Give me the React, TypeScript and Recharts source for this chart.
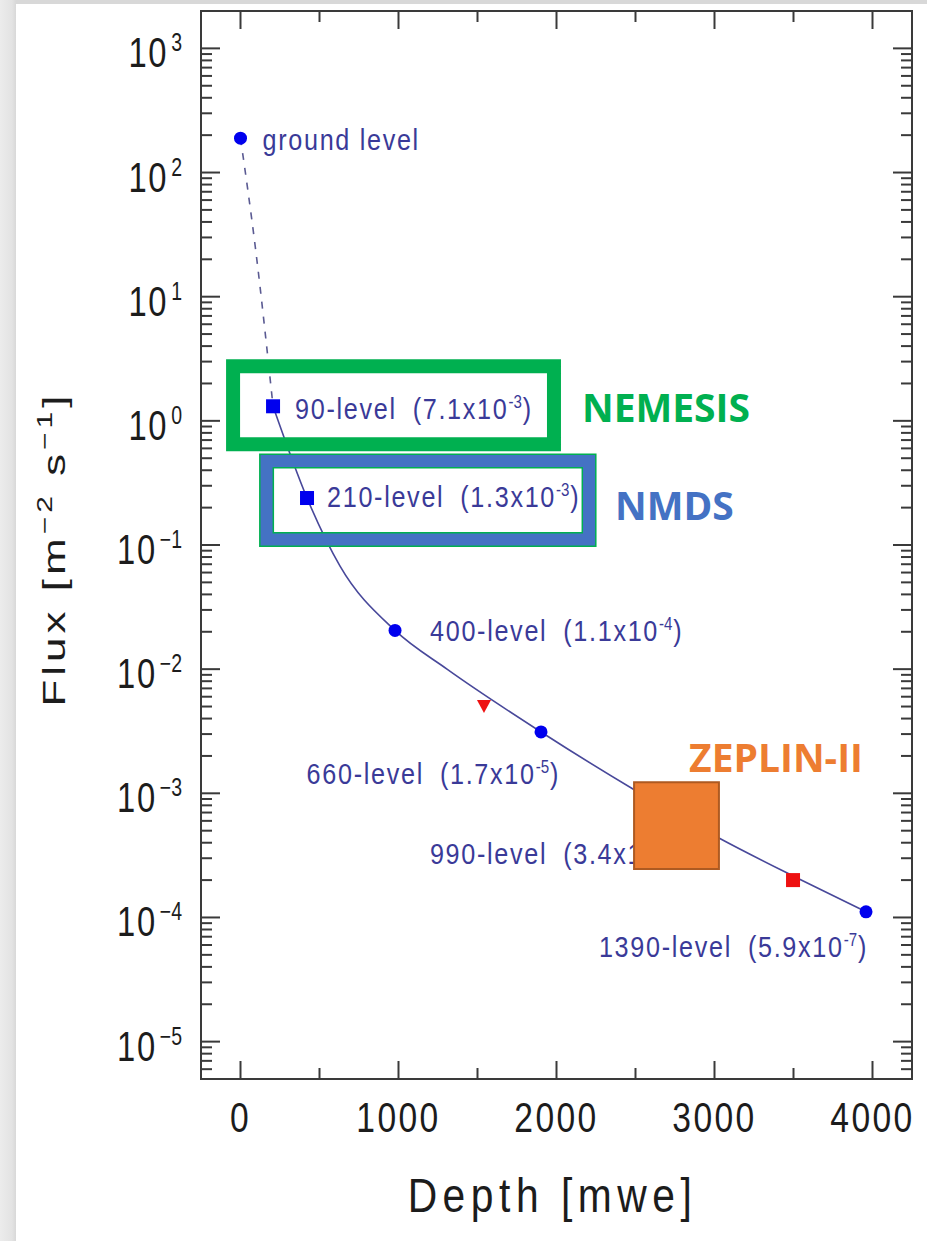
import React from 'react';
import { ComposedChart, Line, Scatter, XAxis, YAxis, ReferenceArea, ReferenceDot, Label } from 'recharts';

// ---- data ----
const dashedDepth = [0, 98, 206];
const dashedFlux = [189, 22.7, 1.31];
const solidDepth = [206, 421, 630, 978, 1307, 1902, 2484, 3028, 3497, 3959];
const solidFlux = [1.31, 0.239, 0.0676, 0.0205, 0.01, 0.00312, 0.001084, 4.37e-4, 2.16e-4, 1.11e-4];

const levelNames = ['ground level', '90-level', '210-level', '400-level', '660-level', '990-level', '1390-level'];
const levelDepth = [0, 206, 421, 978, 1902, 2800, 3959];
const levelFlux = [189, 1.31, 0.239, 0.0205, 0.00312, 6.3e-4, 1.11e-4];
const levelMarker = ['circle', 'square', 'square', 'circle', 'circle', 'circle', 'circle'];
const levelRateMantissa = ['', '7.1', '1.3', '1.1', '1.7', '3.4', '5.9'];
const levelRateExponent = ['', '-3', '-3', '-4', '-5', '-6', '-7'];
// label placement relative to the point (px): dx, dy, anchor
const levelLabelDx = [22, 22, 20, 35, 19, -253, 2];
const levelLabelDy = [2, 3, -1, 1, 42, 36, 35];
const levelLabelAnchor = ['start', 'start', 'start', 'start', 'end', 'start', 'end'];

const otherDepth = [1541, 3497];
const otherFlux = [0.00514, 2.0e-4];
const otherMarker = ['triangle', 'square'];

const boxNames = ['NEMESIS', 'NMDS', 'ZEPLIN-II'];
const boxDepthFrom = [-47, 165, 2491];
const boxDepthTo = [1984, 2206, 3028];
const boxFluxLow = [0.649, 0.1105, 2.46e-4];
const boxFluxHigh = [2.757, 0.4738, 1.23e-3];
const boxNameDepth = [2161, 2370, 2839];
const boxNameFlux = [1.265, 0.2057, 1.94e-3];

const xTicks = [0, 500, 1000, 1500, 2000, 2500, 3000, 3500, 4000];
const xMajorTicks = [0, 1000, 2000, 3000, 4000];
const yExponents = [-6, -5, -4, -3, -2, -1, 0, 1, 2, 3];
const yMantissas = [1, 2, 3, 4, 5, 6, 7, 8, 9];
const X_DOMAIN = [-250, 4250];
const Y_DOMAIN = [5e-6, 2000];

// ---- styles ----
const W = 927;
const H = 1241;
const MARGIN = { top: 11, right: 15, left: 0, bottom: 0 };
const Y_AXIS_W = 201;
const X_AXIS_H = 162;
const PLOT_W = W - MARGIN.left - MARGIN.right - Y_AXIS_W;
const PLOT_H = H - MARGIN.top - MARGIN.bottom - X_AXIS_H;
const SANS = "'Liberation Sans', Arial, sans-serif";
const BOLD = "'Open Sans', 'Noto Sans', 'Liberation Sans', sans-serif";
const AXIS_COLOR = '#3a3a3a';
const TEXT_COLOR = '#1c1c1c';
const LABEL_COLOR = '#3a3a98';
const CURVE_COLOR = '#48489a';
const boxStroke = ['#00B050', '#4472C4', '#AE5A21'];
const boxFill = ['none', 'none', '#ED7D31'];
const boxNameColor = ['#00B050', '#4472C4', '#ED7D31'];

const yTicks: number[] = [];
yExponents.forEach((e) => {
  yMantissas.forEach((m) => {
    const v = Number(`${m}e${e}`);
    if (v > Y_DOMAIN[0] * 1.05 && v < Y_DOMAIN[1] * 0.95) yTicks.push(v);
  });
});

const dashedData = dashedDepth.map((x, i) => ({ x, y: dashedFlux[i] }));
const solidData = solidDepth.map((x, i) => ({ x, y: solidFlux[i] }));
const levelData = levelDepth.map((x, i) => ({ x, y: levelFlux[i], marker: levelMarker[i], color: '#0000ee', labelIndex: i }));
const otherData = otherDepth.map((x, i) => ({ x, y: otherFlux[i], marker: otherMarker[i], color: '#ee1111', labelIndex: -1 }));

const LevelLabel = ({ cx, cy, i }: { cx: number; cy: number; i: number }) => {
  const hasRate = levelRateMantissa[i] !== '';
  return (
    <text
      transform={`translate(${cx + levelLabelDx[i]} ${cy + levelLabelDy[i] + 10}) scale(0.84 1)`}
      textAnchor={levelLabelAnchor[i] as any}
      fontFamily={SANS}
      fontSize={30}
      letterSpacing={2}
      fill={LABEL_COLOR}
    >
      <tspan>{levelNames[i]}</tspan>
      {hasRate && <tspan dx={19}>{`(${levelRateMantissa[i]}x10`}</tspan>}
      {hasRate && <tspan fontSize={18} dy={-11} letterSpacing={0}>{levelRateExponent[i]}</tspan>}
      {hasRate && <tspan dy={11} dx={1}>)</tspan>}
    </text>
  );
};

const Marker = (props: any) => {
  const { cx, cy, payload } = props;
  if (cx == null || cy == null) return null;
  const c = payload.color;
  let mark;
  if (payload.marker === 'square') {
    mark = <rect x={cx - 7} y={cy - 7} width={14} height={14} fill={c} />;
  } else if (payload.marker === 'triangle') {
    mark = <polygon points={`${cx - 7},${cy - 5} ${cx + 7},${cy - 5} ${cx},${cy + 8}`} fill={c} />;
  } else {
    mark = <circle cx={cx} cy={cy} r={6.5} fill={c} />;
  }
  return (
    <g>
      {mark}
      {payload.labelIndex >= 0 && <LevelLabel cx={cx} cy={cy} i={payload.labelIndex} />}
    </g>
  );
};

const XTick = (props: any) => {
  const { x, y, payload } = props;
  const v = payload.value;
  const major = xMajorTicks.includes(v);
  const len = major ? 18 : 11;
  return (
    <g>
      <line x1={x} y1={y} x2={x} y2={y - len} stroke={AXIS_COLOR} strokeWidth={2} />
      <line x1={x} y1={y - PLOT_H} x2={x} y2={y - PLOT_H + len} stroke={AXIS_COLOR} strokeWidth={2} />
      {major && (
        <text transform={`translate(${x} ${y + 53}) scale(0.8 1)`} textAnchor="middle" fontFamily={SANS} fontSize={42} letterSpacing={3} fill={TEXT_COLOR}>
          {v}
        </text>
      )}
    </g>
  );
};

const YTick = (props: any) => {
  const { x, y, payload } = props;
  const v = payload.value;
  const e = Math.round(Math.log10(v));
  const major = Math.abs(v / Math.pow(10, e) - 1) < 1e-6;
  const len = major ? 19 : 11;
  const expText = e < 0 ? `−${-e}` : `${e}`;
  return (
    <g>
      <line x1={x} y1={y} x2={x + len} y2={y} stroke={AXIS_COLOR} strokeWidth={2} />
      <line x1={x + PLOT_W} y1={y} x2={x + PLOT_W - len} y2={y} stroke={AXIS_COLOR} strokeWidth={2} />
      {major && (
        <text transform={`translate(${x - 19} ${y + 19}) scale(0.78 1)`} textAnchor="end" fontFamily={SANS} fill={TEXT_COLOR}>
          <tspan fontSize={42} letterSpacing={2}>10</tspan>
          <tspan fontSize={25} dy={-16} dx={4}>{expText}</tspan>
        </text>
      )}
    </g>
  );
};

const XTitle = (props: any) => {
  const vb = props.viewBox || { x: Y_AXIS_W, y: MARGIN.top + PLOT_H, width: PLOT_W, height: X_AXIS_H };
  return (
    <text
      transform={`translate(${vb.x + vb.width / 2 - 4} ${vb.y + 133}) scale(0.85 1)`}
      textAnchor="middle"
      fontFamily={SANS}
      fontSize={48}
      letterSpacing={6.5}
      fill={TEXT_COLOR}
    >
      Depth [mwe]
    </text>
  );
};

const YTitle = (props: any) => {
  const vb = props.viewBox || { x: 0, y: MARGIN.top, width: Y_AXIS_W, height: PLOT_H };
  const cy = vb.y + vb.height / 2 + 4;
  return (
    <text
      transform={`translate(65, ${cy}) rotate(-90) scale(1, 0.72)`}
      textAnchor="middle"
      fontFamily={SANS}
      fontSize={44}
      letterSpacing={4}
      fill={TEXT_COLOR}
    >
      <tspan>Flux [m</tspan>
      <tspan fontSize={30} dy={-18}>−2</tspan>
      <tspan dy={18}> s</tspan>
      <tspan fontSize={30} dy={-18}>−1</tspan>
      <tspan dy={18}>]</tspan>
    </text>
  );
};

const BoxName = ({ cx, cy, i }: { cx: number; cy: number; i: number }) => {
  if (cx == null || cy == null) return null;
  return (
    <text x={cx} y={cy + 14} fontFamily={BOLD} fontWeight={700} fontSize={39} fill={boxNameColor[i]}>
      {boxNames[i]}
    </text>
  );
};

export default function App() {
  return (
    <div style={{ position: 'absolute', left: 0, top: 0, width: W, height: H, background: 'linear-gradient(to right, #ececec 0px, #e3e3e3 12px, #d8d8d8 16px)' }}>
      <div style={{ position: 'absolute', left: 16, top: 4, right: 0, bottom: 0, background: '#ffffff' }} />
      <div style={{ position: 'absolute', left: 0, top: 0 }}>
        <ComposedChart width={W} height={H} margin={MARGIN}>
          <XAxis
            type="number"
            dataKey="x"
            domain={X_DOMAIN}
            allowDataOverflow
            ticks={xTicks}
            interval={0}
            height={X_AXIS_H}
            tickSize={0}
            tickMargin={0}
            tickLine={false}
            axisLine={false}
            tick={(p: any) => <XTick {...p} />}
          >
            <Label content={(p: any) => <XTitle {...p} />} />
          </XAxis>
          <YAxis
            type="number"
            dataKey="y"
            scale="log"
            domain={Y_DOMAIN}
            allowDataOverflow
            ticks={yTicks}
            interval={0}
            width={Y_AXIS_W}
            tickSize={0}
            tickMargin={0}
            tickLine={false}
            axisLine={false}
            tick={(p: any) => <YTick {...p} />}
          >
            <Label content={(p: any) => <YTitle {...p} />} />
          </YAxis>

          <ReferenceArea x1={X_DOMAIN[0]} x2={X_DOMAIN[1]} y1={Y_DOMAIN[0]} y2={Y_DOMAIN[1]} fill="none" stroke={AXIS_COLOR} strokeWidth={2} ifOverflow="visible" />

          <Line data={dashedData} dataKey="y" type="monotone" stroke="#5a5a92" strokeWidth={1.6} strokeDasharray="7 8" dot={false} activeDot={false} isAnimationActive={false} />
          <Line data={solidData} dataKey="y" type="monotone" stroke={CURVE_COLOR} strokeWidth={1.6} dot={false} activeDot={false} isAnimationActive={false} />

          <Scatter data={levelData} dataKey="y" shape={(p: any) => <Marker {...p} />} isAnimationActive={false} />
          <Scatter data={otherData} dataKey="y" shape={(p: any) => <Marker {...p} />} isAnimationActive={false} />

          <ReferenceArea x1={boxDepthFrom[0]} x2={boxDepthTo[0]} y1={boxFluxLow[0]} y2={boxFluxHigh[0]} fill="none" stroke={boxStroke[0]} strokeWidth={14} ifOverflow="visible" zIndex={1500} />
          <ReferenceArea x1={boxDepthFrom[1]} x2={boxDepthTo[1]} y1={boxFluxLow[1]} y2={boxFluxHigh[1]} fill="none" stroke="#00B050" strokeWidth={15} ifOverflow="visible" zIndex={1500} />
          <ReferenceArea x1={boxDepthFrom[1]} x2={boxDepthTo[1]} y1={boxFluxLow[1]} y2={boxFluxHigh[1]} fill="none" stroke={boxStroke[1]} strokeWidth={12} ifOverflow="visible" zIndex={1501} />
          <ReferenceArea x1={boxDepthFrom[2]} x2={boxDepthTo[2]} y1={boxFluxLow[2]} y2={boxFluxHigh[2]} fill={boxFill[2]} fillOpacity={1} stroke={boxStroke[2]} strokeWidth={2} ifOverflow="visible" zIndex={1500} />

          {boxNames.map((n, i) => (
            <ReferenceDot key={n} x={boxNameDepth[i]} y={boxNameFlux[i]} ifOverflow="visible" zIndex={1600} shape={(p: any) => <BoxName cx={p.cx} cy={p.cy} i={i} />} />
          ))}
        </ComposedChart>
      </div>
    </div>
  );
}
